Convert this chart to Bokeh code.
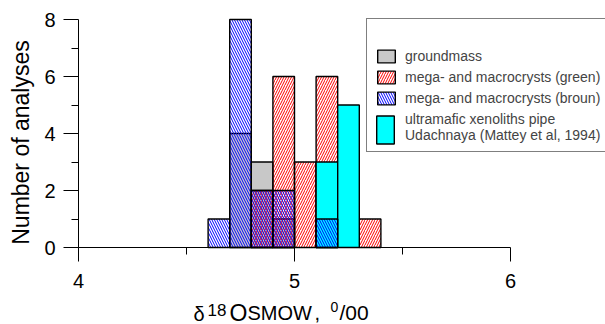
import math
from bokeh.plotting import figure
from bokeh.models import Range1d, FixedTicker, Legend, LegendItem, Label, ColumnDataSource
from bokeh.embed import file_html
from bokeh.resources import INLINE
from bokeh.core.properties import value

# ---- data ----
bin_left = [4.6, 4.7, 4.8, 4.9, 5.0, 5.1, 5.2, 5.3]
bin_width = 0.1
groundmass = [0, 4, 3, 1, 0, 0, 0, 0]
green = [0, 0, 2, 6, 3, 6, 0, 1]
broun = [1, 8, 2, 2, 0, 1, 0, 0]
ultramafic = [0, 0, 0, 0, 0, 3, 5, 0]

series_labels = ["groundmass", "mega- and macrocrysts (green)",
                 "mega- and macrocrysts (broun)",
                 "ultramafic xenoliths pipe\nUdachnaya (Mattey et al, 1994)"]
legend_title = "Olivine:"
y_title = "Number of analyses"
x_title_parts = ["δ", "18", "O", "SMOW", ",", "0", "/00"]

x_ticks = [4, 5, 6]
x_minor = [4.5, 5.5]
y_ticks = [0, 2, 4, 6, 8]
y_minor = [1, 3, 5, 7]

FONT = "Liberation Sans"

# ---- layout (page pixels); the frame fills the whole canvas ----
W, H = 605, 324
AX_X0, AX_Y0 = 78, 247        # page position of the axes' origin (x=4, y=0)
PX_PER_X = 216.0
PX_PER_Y = 28.5

x_range = Range1d(4 - AX_X0 / PX_PER_X, 4 + (W - AX_X0) / PX_PER_X)
y_range = Range1d(-(H - AX_Y0) / PX_PER_Y, AX_Y0 / PX_PER_Y)

p = figure(width=W, height=H, output_backend="svg", toolbar_location=None,
           x_range=x_range, y_range=y_range,
           min_border_left=0, min_border_right=0, min_border_top=0, min_border_bottom=0,
           background_fill_color="white", border_fill_color="white",
           outline_line_color=None)
p.title.visible = False
p.xgrid.visible = False
p.ygrid.visible = False

xa = p.xaxis[0]
xa.fixed_location = 0
xa.ticker = FixedTicker(ticks=x_ticks, minor_ticks=x_minor)
xa.bounds = (4, 6)
xa.axis_line_color = "black"
xa.major_tick_line_color = "black"
xa.minor_tick_line_color = "black"
xa.major_tick_in = 0
xa.major_tick_out = 14
xa.minor_tick_in = 0
xa.minor_tick_out = 7
xa.major_label_text_font = FONT
xa.major_label_text_font_size = "20px"
xa.major_label_text_color = "black"
xa.major_label_standoff = 12

ya = p.yaxis[0]
ya.fixed_location = 4
ya.ticker = FixedTicker(ticks=y_ticks, minor_ticks=y_minor)
ya.bounds = (0, 8)
ya.axis_line_color = "black"
ya.major_tick_line_color = "black"
ya.minor_tick_line_color = "black"
ya.major_tick_in = 0
ya.major_tick_out = 15
ya.minor_tick_in = 0
ya.minor_tick_out = 7
ya.major_label_text_font = FONT
ya.major_label_text_font_size = "20px"
ya.major_label_text_color = "black"
ya.major_label_standoff = 8


def bars(vals):
    left = [b for b, v in zip(bin_left, vals) if v > 0]
    top = [v for v in vals if v > 0]
    return ColumnDataSource(dict(left=left, right=[b + bin_width for b in left],
                                 top=top, bottom=[0] * len(top)))


LW = 1.4
HS = 5
q = dict(left="left", right="right", top="top", bottom="bottom")
r_gm = p.quad(**q, source=bars(groundmass), fill_color="#c8c8c8",
              line_color="black", line_width=LW)
r_gr = p.quad(**q, source=bars(green), fill_color=None,
              hatch_pattern="right_diagonal_line", hatch_color="red",
              hatch_scale=HS, hatch_weight=1, line_color="black", line_width=LW)
r_ul = p.quad(**q, source=bars(ultramafic), fill_color="#00ffff",
              line_color="black", line_width=LW)
r_br = p.quad(**q, source=bars(broun), fill_color=None,
              hatch_pattern="left_diagonal_line", hatch_color="blue",
              hatch_scale=HS, hatch_weight=1, line_color="black", line_width=LW)
# placeholder (draws nothing) holding the two-line legend entry's text
r_blank = p.quad(**q, source=bars([0] * len(bin_left)), fill_color=None,
                 line_color=None)

legend = Legend(items=[LegendItem(label=series_labels[0], renderers=[r_gm]),
                       LegendItem(label=series_labels[1], renderers=[r_gr]),
                       LegendItem(label=series_labels[2], renderers=[r_br]),
                       LegendItem(label=series_labels[3], renderers=[r_blank])],
                location=(366, H - 152), title=" ",
                title_text_font_size="14px", title_standoff=5,
                label_text_font=FONT, label_text_font_size="14px",
                glyph_width=22, glyph_height=16, label_height=16, label_width=210,
                label_standoff=8, spacing=5, padding=8, margin=0,
                border_line_color="black", border_line_width=1,
                background_fill_color="white", background_fill_alpha=1)
legend.level = "annotation"
p.add_layout(legend)

# tall swatch for the two-line entry
legend_tall = Legend(items=[LegendItem(label=" ", renderers=[r_ul])],
                     location=(374, H - 147),
                     glyph_width=22, glyph_height=35, label_height=35, label_width=1,
                     label_text_font_size="14px", padding=0, margin=0,
                     border_line_color=None, background_fill_alpha=0)
legend_tall.level = "overlay"
p.add_layout(legend_tall)


def dx(page_x):
    return 4 + (page_x - AX_X0) / PX_PER_X


def dy(page_y):
    return (AX_Y0 - page_y) / PX_PER_Y


olivine = Label(x=dx(488), y=dy(43), text=legend_title, text_font=FONT,
                text_font_size="14px", text_align="center",
                text_baseline="alphabetic", text_color="black")
olivine.level = "overlay"
p.add_layout(olivine)

# y title
p.text(x=[dx(20)], y=[dy(142)], text=[y_title], angle=math.pi / 2,
       text_font=value(FONT), text_font_size="23px", text_align="center",
       text_baseline="middle", text_color="black")

# x title set in pieces: δ 18 O SMOW , 0 /00
part_px = [193, 207, 229, 247, 314, 330, 339]
part_size = ["20px", "17px", "23px", "20px", "20px", "14px", "21px"]
part_base = [313, 309, 312, 312, 312, 306, 312]
src = ColumnDataSource(dict(x=[dx(v) for v in part_px], y=[dy(v) for v in part_base],
                            text=x_title_parts, size=part_size))
p.text(x="x", y="y", text="text", source=src, text_font=value(FONT),
       text_font_size="size", text_align="left", text_baseline="alphabetic",
       text_color="black")

open("out.html", "w").write(file_html(p, INLINE))
